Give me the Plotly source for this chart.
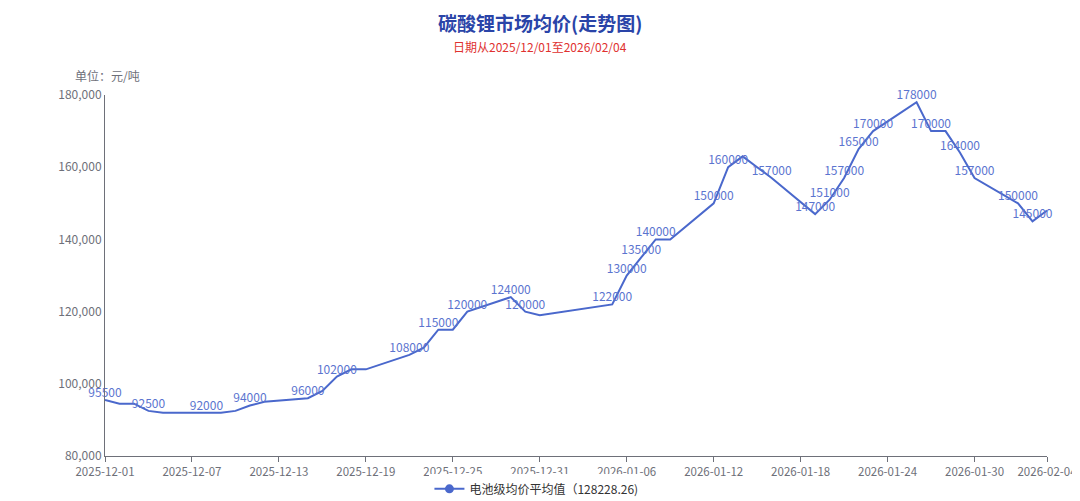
import plotly.graph_objects as go
import pandas as pd

dates = [
    "2025-12-01", "2025-12-02", "2025-12-03", "2025-12-04", "2025-12-05",
    "2025-12-08", "2025-12-09", "2025-12-10", "2025-12-11", "2025-12-12",
    "2025-12-15", "2025-12-16", "2025-12-17", "2025-12-18", "2025-12-19",
    "2025-12-22", "2025-12-23", "2025-12-24", "2025-12-25", "2025-12-26",
    "2025-12-29", "2025-12-30", "2025-12-31",
    "2026-01-05", "2026-01-06", "2026-01-07", "2026-01-08", "2026-01-09",
    "2026-01-12", "2026-01-13", "2026-01-14", "2026-01-15", "2026-01-16",
    "2026-01-19", "2026-01-20", "2026-01-21", "2026-01-22", "2026-01-23",
    "2026-01-26", "2026-01-27", "2026-01-28", "2026-01-29", "2026-01-30",
    "2026-02-02", "2026-02-03", "2026-02-04",
]
prices = [
    95500, 94500, 94500, 92500, 92000,
    92000, 92000, 92500, 94000, 95000,
    96000, 98000, 102000, 104000, 104000,
    108000, 110000, 115000, 115000, 120000,
    124000, 120000, 119000,
    122000, 130000, 135000, 140000, 140000,
    150000, 160000, 163000, 160000, 157000,
    147000, 151000, 157000, 165000, 170000,
    178000, 170000, 170000, 164000, 157000,
    150000, 145000, 148000,
]
# labels that remain visible (others hidden due to overlap in the original)
label_shown = [
    1, 0, 0, 1, 0,
    1, 0, 0, 1, 0,
    1, 0, 1, 0, 0,
    1, 0, 1, 0, 1,
    1, 1, 0,
    1, 1, 1, 1, 0,
    1, 1, 0, 0, 1,
    1, 1, 1, 1, 1,
    1, 1, 0, 1, 1,
    1, 1, 0,
]
tick_dates = ["2025-12-01", "2025-12-07", "2025-12-13", "2025-12-19", "2025-12-25",
              "2025-12-31", "2026-01-06", "2026-01-12", "2026-01-18", "2026-01-24",
              "2026-01-30", "2026-02-04"]
y_ticks = [80000, 100000, 120000, 140000, 160000, 180000]

title_text = "碳酸锂市场均价(走势图)"
subtitle_text = "日期从2025/12/01至2026/02/04"
unit_text = "单位：元/吨"
avg = sum(prices) / len(prices)
legend_name = "电池级均价平均值（%.2f)" % avg

FONT = "Noto Sans CJK SC, Noto Sans, sans-serif"
LINE = "#4a68cc"

texts = [str(p) if s else "" for p, s in zip(prices, label_shown)]

fig = go.Figure()
fig.add_trace(go.Scatter(
    x=pd.to_datetime(dates), y=prices, mode="lines+text",
    text=texts, textposition="top center",
    textfont=dict(family=FONT, size=12, color="#5b74cf"),
    line=dict(color=LINE, width=2),
    showlegend=False, cliponaxis=False, hoverinfo="x+y",
))
fig.add_trace(go.Scatter(
    x=[None], y=[None], mode="lines+markers", name=legend_name,
    line=dict(color=LINE, width=2), marker=dict(size=9, color=LINE),
    showlegend=True,
))

# page body has an 8px margin, so the figure is sized/placed to compensate
fig.update_layout(
    width=1072, height=493,
    margin=dict(l=97, r=33, t=87, b=45, autoexpand=False),
    paper_bgcolor="white", plot_bgcolor="white",
    font=dict(family=FONT, size=12, color="#6e7079"),
    showlegend=True,
    legend=dict(orientation="h", x=0.458, xanchor="center", y=-0.091, yanchor="middle",
                font=dict(size=12, color="#333333"), itemwidth=30),
    annotations=[
        dict(text="<b>%s</b>" % title_text, xref="paper", yref="paper", x=0.462, y=1.202,
             xanchor="center", yanchor="middle", showarrow=False,
             font=dict(family=FONT, size=19, color="#2a44a8")),
        dict(text=subtitle_text, xref="paper", yref="paper", x=0.462, y=1.133,
             xanchor="center", yanchor="middle", showarrow=False,
             font=dict(family=FONT, size=12, color="#e0312f")),
        dict(text=unit_text, xref="paper", yref="paper", x=-0.034, y=1.055,
             xanchor="left", yanchor="middle", showarrow=False,
             font=dict(family=FONT, size=12, color="#6e7079")),
    ],
)
fig.update_xaxes(
    type="date", range=[pd.Timestamp("2025-12-01"), pd.Timestamp("2026-02-04")],
    tickvals=pd.to_datetime(tick_dates), ticktext=tick_dates, automargin=False,
    showgrid=False, zeroline=False, showline=True, linecolor="#6e7079", linewidth=1,
    ticks="outside", ticklen=5, tickcolor="#6e7079",
    tickfont=dict(size=11.5, color="#6e7079"),
)
fig.update_yaxes(
    range=[80000, 180000], tickvals=y_ticks, tickformat=",", automargin=False,
    showgrid=False, zeroline=False, showline=True, linecolor="#6e7079", linewidth=1,
    ticks="", tickfont=dict(size=12, color="#6e7079"),
)

fig.write_html("out.html")
